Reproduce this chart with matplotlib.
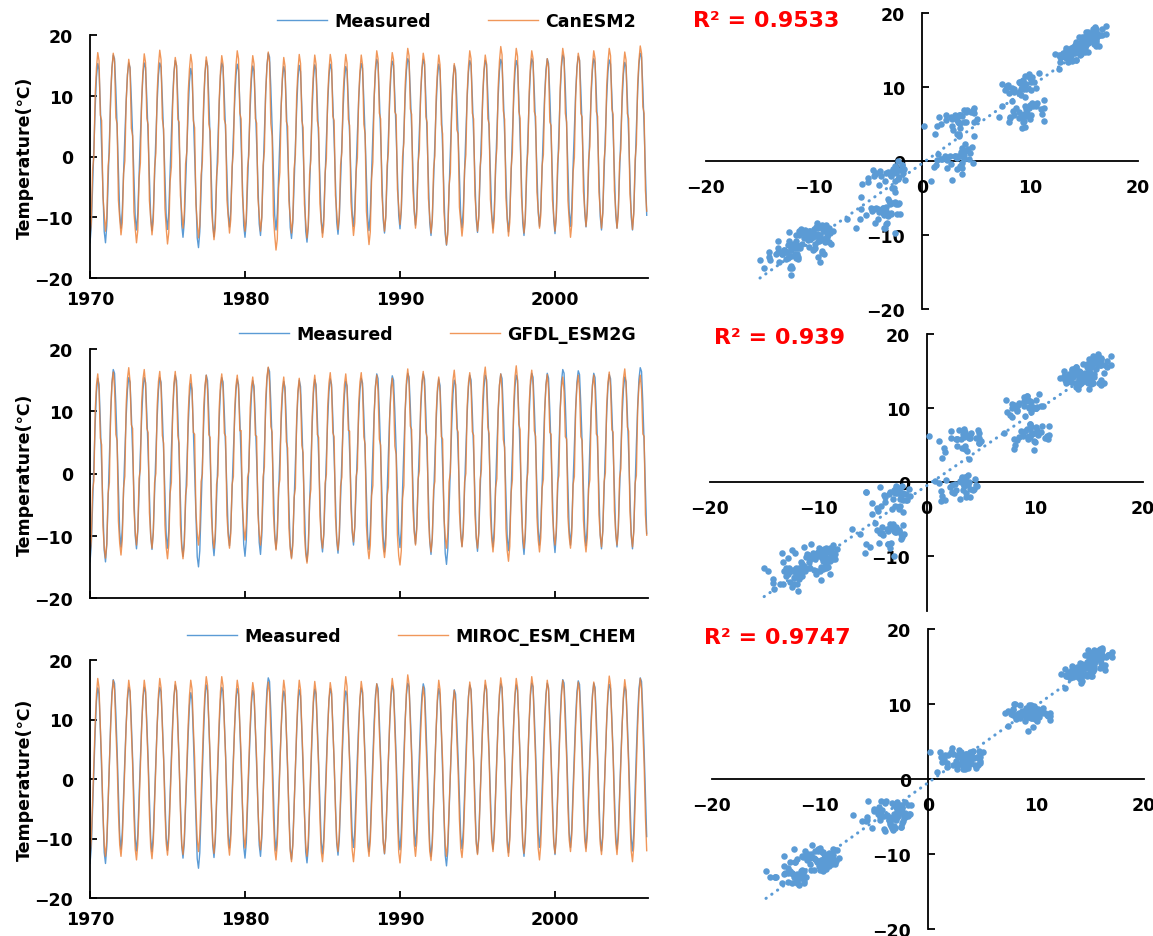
import numpy as np
import matplotlib.pyplot as plt

plt.rcParams['font.family'] = ['DejaVu Sans']
plt.rcParams['font.weight'] = 'bold'

# years shown, monthly weight of the summer peak vs winter trough,
# and how strongly each month follows the year's anomaly
years = np.arange(1970, 2006)
summer_weight = [0, .15, .35, .5, .7, .9, 1, .9, .7, .5, .35, .15]
anomaly_gain = [1, 1.3, 1.6, 1.7, 1.6, 1.2, 1, 1.2, 1.6, 1.7, 1.6, 1.3]

# measured series: July peak and January trough read per year, monthly climatology
meas_peak = [15.3, 16.7, 15.4, 15.4, 15.4, 15.8, 14.5, 15.8, 15.4, 15.2,
             14.9, 17.0, 14.8, 15.0, 15.1, 15.2, 14.8, 15.3, 16.0, 15.7,
             16.1, 16.0, 15.2, 15.0, 15.8, 15.8, 16.0, 15.8, 16.1, 16.1,
             16.7, 16.5, 16.1, 15.9, 15.5, 17.0]
meas_trough = [-14.2, -14.2, -11.8, -12.1, -12.2, -12.0, -13.3, -15.0, -13.2, -11.6,
               -13.3, -13.0, -12.1, -13.5, -14.1, -12.6, -12.8, -11.5, -12.2, -12.6,
               -11.9, -11.3, -13.0, -14.6, -11.7, -12.5, -11.8, -12.4, -13.0, -11.5,
               -12.7, -11.5, -11.6, -12.1, -11.8, -12.1]
meas_clim = [-12.6, -9.8, -3.2, 3.0, 9.0, 13.6, 15.6, 14.8, 9.5, 3.2, -3.8, -10.5]

# CanESM2
can_peak = [17.1, 17.0, 16.0, 16.9, 17.5, 16.3, 16.8, 16.4, 16.6, 17.4,
            16.6, 17.2, 16.3, 16.8, 16.7, 16.8, 16.8, 16.7, 17.4, 17.1,
            17.8, 17.0, 16.7, 15.3, 17.4, 16.7, 18.1, 17.8, 17.4, 16.1,
            17.8, 17.0, 17.4, 17.8, 17.2, 18.2]
can_trough = [-13.0, -12.3, -12.9, -14.2, -12.9, -14.4, -11.8, -13.4, -13.7, -12.6,
              -12.3, -12.3, -15.4, -12.6, -13.4, -13.3, -12.0, -13.0, -14.5, -12.3,
              -11.2, -11.8, -12.6, -14.5, -13.1, -12.3, -12.6, -13.1, -12.6, -11.8,
              -12.3, -13.3, -11.5, -11.8, -11.8, -12.0]
can_clim = [-12.7, -10.5, -2.0, 0.3, 10.2, 14.5, 17.0, 15.6, 6.5, 5.5, -7.0, -10.0]

# GFDL_ESM2G
gfdl_peak = [16.0, 16.3, 17.0, 16.7, 16.4, 16.4, 15.9, 15.8, 16.0, 15.8,
             15.5, 17.1, 15.5, 15.3, 15.8, 16.2, 16.0, 16.2, 15.8, 15.3,
             16.8, 16.4, 15.5, 16.6, 16.2, 17.1, 16.0, 17.3, 16.6, 15.9,
             15.5, 15.8, 15.8, 16.3, 16.8, 15.8]
gfdl_trough = [-13.0, -13.6, -13.1, -11.5, -12.0, -13.7, -13.7, -11.5, -12.0, -12.0,
               -10.7, -11.5, -12.3, -13.7, -14.4, -12.0, -12.3, -11.0, -13.7, -13.5,
               -14.7, -11.5, -12.6, -12.0, -11.8, -12.0, -12.6, -14.1, -12.0, -12.6,
               -11.5, -12.0, -12.6, -11.8, -11.5, -11.8]
gfdl_clim = [-12.4, -10.0, -2.0, -0.5, 10.5, 14.5, 16.2, 13.8, 6.5, 5.8, -7.0, -10.5]

# MIROC_ESM_CHEM
miroc_peak = [16.9, 16.6, 16.6, 16.6, 16.9, 16.4, 16.6, 17.2, 17.2, 16.6,
              16.2, 16.3, 16.6, 16.6, 16.4, 16.2, 17.2, 16.4, 16.0, 16.9,
              17.5, 15.5, 16.6, 14.9, 16.3, 16.6, 17.0, 16.9, 17.2, 16.6,
              16.6, 16.3, 16.3, 17.3, 16.7, 16.9]
miroc_trough = [-13.0, -13.0, -13.0, -13.6, -13.4, -12.8, -12.7, -12.2, -12.5, -12.8,
                -11.6, -11.9, -13.6, -13.9, -13.0, -13.9, -12.2, -13.9, -13.0, -12.5,
                -14.1, -13.0, -13.7, -13.0, -13.2, -12.7, -12.2, -13.0, -12.5, -13.6,
                -12.5, -12.2, -12.2, -12.7, -12.7, -13.9]
miroc_clim = [-12.9, -10.2, -4.0, 2.5, 9.0, 14.0, 16.6, 15.0, 8.5, 3.0, -5.5, -11.0]

models = ['CanESM2', 'GFDL_ESM2G', 'MIROC_ESM_CHEM']
r2_text = ['R² = 0.9533', 'R² = 0.939', 'R² = 0.9747']


def monthly(clim, peak, trough):
    clim = np.asarray(clim)
    w = np.asarray(summer_weight)
    g = np.asarray(anomaly_gain)
    peak = np.asarray(peak)
    trough = np.asarray(trough)
    trough_next = np.append(trough[1:], trough[-1])
    # spring months lean on this January, autumn months on next January
    winter = np.where(np.arange(12) <= 6, (trough - clim[0])[:, None],
                      (trough_next - clim[0])[:, None])
    summer = (peak - clim[6])[:, None]
    vals = clim[None, :] + g * (w * summer + (1 - w) * winter)
    return vals.ravel()


t = years[0] + np.arange(len(years) * 12) / 12.0
measured = monthly(meas_clim, meas_peak, meas_trough)
sims = [monthly(can_clim, can_peak, can_trough),
        monthly(gfdl_clim, gfdl_peak, gfdl_trough),
        monthly(miroc_clim, miroc_peak, miroc_trough)]

BLUE = '#5B9BD5'
ORANGE = '#ED7D31'
W, H = 1153, 937

fig = plt.figure(figsize=(W / 100, H / 100), dpi=100)

# pixel boxes: (left, top, right, bottom)
ts_boxes = [(90, 36, 648, 279), (90, 350, 648, 599), (90, 661, 648, 899)]
sc_boxes = [(706, 14, 1138, 310), (710, 335, 1143, 612), (712, 630, 1144, 930)]
sc_ylim = [(-20, 20), (-17.35, 20), (-20, 20)]
legend_y = [22, 335, 637]
r2_pos = [(693, 21), (714, 338), (704, 638)]


def add_axes(box):
    l, tp, r, b = box
    return fig.add_axes([l / W, 1 - b / H, (r - l) / W, (b - tp) / H])


for i in range(3):
    # time series
    ax = add_axes(ts_boxes[i])
    l1, = ax.plot(t, measured, color=BLUE, lw=1.0, label='Measured')
    l2, = ax.plot(t, sims[i], color=ORANGE, lw=1.0, alpha=0.8, label=models[i])
    ax.set_xlim(1970, 2006)
    ax.set_ylim(-20, 20)
    ax.set_xticks([1970, 1980, 1990, 2000])
    ax.set_yticks([-20, -10, 0, 10, 20])
    ax.spines['top'].set_visible(False)
    ax.spines['right'].set_visible(False)
    ax.spines['left'].set_linewidth(1.3)
    ax.spines['bottom'].set_linewidth(1.3)
    ax.tick_params(direction='in', length=5, width=1.3, labelsize=12.5)
    ax.tick_params(axis='y', pad=12)
    ax.tick_params(axis='x', pad=9)
    if i == 1:
        ax.set_xticklabels([])
    ax.set_ylabel('Temperature(℃)', fontsize=12.5, fontweight='bold')
    ax.yaxis.set_label_coords(-0.10, 0.5)
    ax.legend(handles=[l1, l2], ncol=2, loc='center right',
              bbox_to_anchor=(636 / W, 1 - legend_y[i] / H),
              bbox_transform=fig.transFigure, frameon=False, borderpad=0,
              borderaxespad=0, handlelength=2.9, handletextpad=0.4,
              columnspacing=3.3, prop={'size': 12.5, 'weight': 'bold'})

    # scatter
    sx = add_axes(sc_boxes[i])
    sx.scatter(measured, sims[i], s=22, color=BLUE, linewidths=0, zorder=3)
    k, b0 = np.polyfit(measured, sims[i], 1)
    xs = np.array([measured.min(), measured.max()])
    sx.plot(xs, k * xs + b0, color=BLUE, lw=2.2,
            linestyle=(0, (0.1, 2.2)), dash_capstyle='round', zorder=3)
    sx.set_xlim(-20, 20)
    sx.set_ylim(*sc_ylim[i])
    sx.spines['left'].set_position(('data', 0))
    sx.spines['bottom'].set_position(('data', 0))
    sx.spines['top'].set_visible(False)
    sx.spines['right'].set_visible(False)
    sx.spines['left'].set_linewidth(1.3)
    sx.spines['bottom'].set_linewidth(1.3)
    sx.set_xticks([-20, -10, 0, 10, 20])
    sx.set_yticks([v for v in [-20, -10, 0, 10, 20] if v >= sc_ylim[i][0]])
    sx.tick_params(axis='x', length=0, pad=12, labelsize=12.5)
    sx.tick_params(axis='y', direction='in', length=5, width=1.3, pad=12, labelsize=12.5)
    sx.patch.set_visible(False)

    fig.text(r2_pos[i][0] / W, 1 - r2_pos[i][1] / H, r2_text[i], color='red',
             fontsize=16, fontweight='bold', ha='left', va='center')

fig.savefig('out.png', dpi=100)
